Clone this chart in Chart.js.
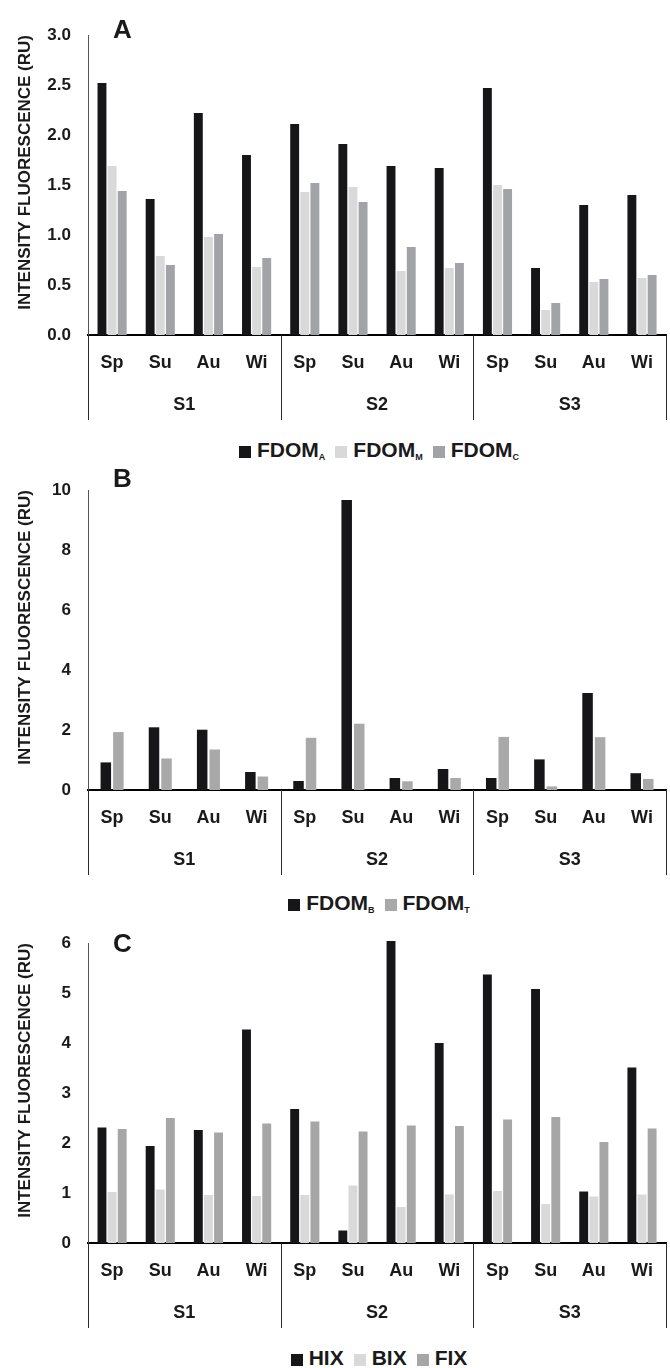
<!DOCTYPE html>
<html lang="en">
<head>
<meta charset="UTF-8">
<title>Fluorescence intensity by site and season</title>
<script src="https://cdn.jsdelivr.net/npm/chart.js"></script>
<style>
  body { margin: 0; background: #fff; }
  #page { position: relative; width: 670px; height: 1368px; overflow: hidden;
          font-family: 'Liberation Sans', Arial, sans-serif; color: #1a1a1a; }
  .panel { position: absolute; left: 0; }
  .letter { position: absolute; left: 113px; font-size: 26px; font-weight: bold; line-height: 26px; }
  .legend { position: absolute; left: 88px; width: 582px; text-align: center; white-space: nowrap;
            font-size: 21px; font-weight: bold; line-height: 24px; }
  .legend span { margin: 0 5px; }
  .legend i { display: inline-block; width: 12px; height: 12px; margin-right: 6px; vertical-align: -1px; }
  .legend sub { font-size: 9px; line-height: 0; vertical-align: -3px; }
</style>
</head>
<body>
<div id="page">
  <canvas id="chartA" class="panel" width="670" height="423" style="top:2px"></canvas>
  <div class="letter" style="top:16px">A</div>
  <div class="legend" style="top:438px">
    <span><i style="background:#161618"></i>FDOM<sub>A</sub></span><span><i style="background:#d9d9d9"></i>FDOM<sub>M</sub></span><span><i style="background:#a2a3a7"></i>FDOM<sub>C</sub></span>
  </div>

  <canvas id="chartB" class="panel" width="670" height="423" style="top:457px"></canvas>
  <div class="letter" style="top:465px">B</div>
  <div class="legend" style="top:891px">
    <span><i style="background:#161618"></i>FDOM<sub>B</sub></span><span><i style="background:#a9a9a9"></i>FDOM<sub>T</sub></span>
  </div>

  <canvas id="chartC" class="panel" width="670" height="423" style="top:910px"></canvas>
  <div class="letter" style="top:930px">C</div>
  <div class="legend" style="top:1346px">
    <span><i style="background:#161618"></i>HIX</span><span><i style="background:#d9d9d9"></i>BIX</span><span><i style="background:#a6a6a6"></i>FIX</span>
  </div>
</div>

<script>
  // categories: four seasons at each of three sites
  const seasons = ['Sp', 'Su', 'Au', 'Wi'];
  const sites = ['S1', 'S2', 'S3'];
  const categories = sites.flatMap(() => seasons);

  // panel A (RU)
  const fdomA = [2.52, 1.36, 2.22, 1.80, 2.11, 1.91, 1.69, 1.67, 2.47, 0.67, 1.30, 1.40];
  const fdomM = [1.69, 0.79, 0.98, 0.68, 1.43, 1.48, 0.64, 0.67, 1.50, 0.25, 0.53, 0.57];
  const fdomC = [1.44, 0.70, 1.01, 0.77, 1.52, 1.33, 0.88, 0.72, 1.46, 0.32, 0.56, 0.60];
  const ticksA = [0, 3, 0.5];

  // panel B (RU)
  const fdomB = [0.92, 2.09, 2.01, 0.60, 0.30, 9.67, 0.40, 0.70, 0.40, 1.02, 3.23, 0.56];
  const fdomT = [1.93, 1.05, 1.35, 0.45, 1.74, 2.21, 0.29, 0.40, 1.77, 0.12, 1.76, 0.37];
  const ticksB = [0, 10, 2];

  // panel C
  const hix = [2.31, 1.94, 2.26, 4.27, 2.68, 0.25, 6.04, 4.00, 5.37, 5.08, 1.03, 3.51];
  const bix = [1.02, 1.07, 0.96, 0.94, 0.96, 1.15, 0.72, 0.97, 1.04, 0.78, 0.93, 0.97];
  const fix = [2.28, 2.50, 2.21, 2.39, 2.43, 2.23, 2.35, 2.34, 2.47, 2.52, 2.02, 2.29];
  const ticksC = [0, 6, 1];

  Chart.defaults.font.family = "'Liberation Sans', Arial, sans-serif";
  Chart.defaults.color = '#1a1a1a';

  // vertical lines separating the site groups below the axis
  const groupDividers = {
    id: 'groupDividers',
    afterDraw(chart) {
      const x = chart.scales.x, site = chart.scales.site, ctx = chart.ctx;
      ctx.save();
      ctx.strokeStyle = '#2a2a2a';
      ctx.lineWidth = 1;
      for (let g = 0; g <= sites.length; g++) {
        const i = g * seasons.length;
        let px;
        if (i === 0) px = x.left;
        else if (i >= categories.length) px = x.right;
        else px = (x.getPixelForValue(i - 1) + x.getPixelForValue(i)) / 2;
        px = Math.round(px) + 0.5;
        ctx.beginPath();
        ctx.moveTo(px, x.top);
        ctx.lineTo(px, site.bottom);
        ctx.stroke();
      }
      ctx.restore();
    }
  };

  function makeChart(id, series, yTicks, decimals, catPct, barPct) {
    const [yMin, yMax, yStep] = yTicks;
    return new Chart(document.getElementById(id), {
      type: 'bar',
      data: {
        labels: categories,
        datasets: series.map(s => ({
          label: s.label,
          data: s.data,
          backgroundColor: s.color,
          categoryPercentage: catPct,
          barPercentage: barPct,
          clip: false
        }))
      },
      options: {
        responsive: false,
        animation: false,
        layout: { padding: { top: 33, right: 2, bottom: 5, left: 0 } },
        plugins: { legend: { display: false }, tooltip: { enabled: false } },
        scales: {
          x: {
            weight: 0,
            grid: { display: false, drawTicks: false },
            border: { color: '#000', width: 2 },
            ticks: { padding: 17, autoSkip: false, maxRotation: 0, font: { size: 18, weight: 'bold' } },
            afterFit: s => { s.height = 42; }
          },
          site: {
            type: 'category',
            axis: 'x',
            position: 'bottom',
            weight: 1,
            labels: sites,
            offset: true,
            grid: { display: false, drawTicks: false },
            border: { display: false },
            ticks: { padding: 17, font: { size: 18, weight: 'bold' } },
            afterFit: s => { s.height = 43; }
          },
          y: {
            min: yMin,
            max: yMax,
            grid: { display: false, drawTicks: false },
            border: { color: '#555', width: 1 },
            ticks: {
              stepSize: yStep,
              padding: 17,
              font: { size: 17, weight: 'bold' },
              callback: v => Number(v).toFixed(decimals)
            },
            title: {
              display: true,
              text: 'INTENSITY FLUORESCENCE (RU)',
              align: 'end',
              padding: { top: 15, bottom: 0 },
              font: { size: 17, weight: 'bold' }
            },
            afterFit: s => { s.width = 88; }
          }
        }
      },
      plugins: [groupDividers]
    });
  }

  makeChart('chartA', [
    { label: 'FDOM A', data: fdomA, color: '#161618' },
    { label: 'FDOM M', data: fdomM, color: '#d9d9d9' },
    { label: 'FDOM C', data: fdomC, color: '#a2a3a7' }
  ], ticksA, 1, 0.63, 0.88);

  makeChart('chartB', [
    { label: 'FDOM B', data: fdomB, color: '#161618' },
    { label: 'FDOM T', data: fdomT, color: '#a9a9a9' }
  ], ticksB, 0, 0.52, 0.84);

  makeChart('chartC', [
    { label: 'HIX', data: hix, color: '#161618' },
    { label: 'BIX', data: bix, color: '#d9d9d9' },
    { label: 'FIX', data: fix, color: '#a6a6a6' }
  ], ticksC, 0, 0.63, 0.88);
</script>
</body>
</html>
